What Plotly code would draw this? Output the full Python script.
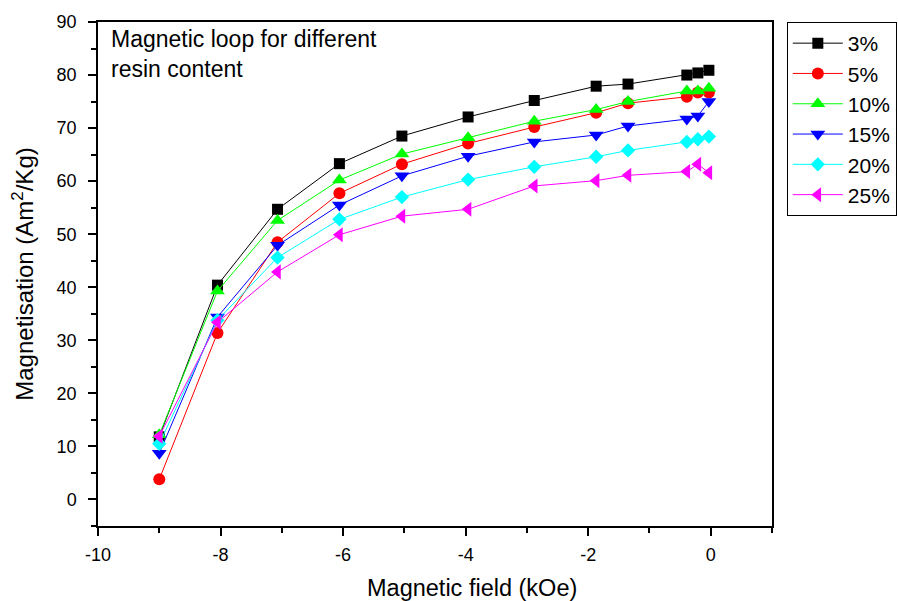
import plotly.graph_objects as go

# Applied magnetic field (kOe)
field = [-9.0, -8.05, -7.07, -6.06, -5.04, -3.96, -2.88, -1.87, -1.35, -0.39, -0.21, -0.03]

# Magnetisation (Am^2/Kg) for each resin content
m_3 = [11.8, 40.4, 54.7, 63.3, 68.5, 72.1, 75.2, 77.9, 78.3, 80.0, 80.4, 80.9]
m_5 = [3.8, 31.4, 48.5, 57.7, 63.2, 67.1, 70.2, 72.9, 74.7, 75.9, 76.7, 76.7]
m_10 = [12.2, 39.3, 52.6, 60.2, 65.1, 68.2, 71.3, 73.5, 75.0, 77.0, 77.0, 77.5]
m_15 = [8.7, 34.4, 47.9, 55.5, 61.0, 64.7, 67.4, 68.7, 70.4, 71.7, 72.3, 75.0]
m_20 = [10.5, 33.8, 45.6, 52.8, 57.0, 60.3, 62.7, 64.6, 65.8, 67.4, 67.9, 68.4]
m_25 = [11.9, 33.4, 42.9, 49.9, 53.4, 54.7, 59.1, 60.1, 61.1, 61.8, 63.2, 61.6]

labels = ["3%", "5%", "10%", "15%", "20%", "25%"]
series = [m_3, m_5, m_10, m_15, m_20, m_25]
colors = ["#000000", "#FF0000", "#00FF00", "#0000FF", "#00FFFF", "#FF00FF"]
symbols = ["square", "circle", "triangle-up", "triangle-down", "diamond", "triangle-left"]
sizes = [11, 12, 13, 13, 11, 13]

# Axis tick labels (plain hyphen minus)
x_ticks = [-10, -8, -6, -4, -2, 0]
x_ticktext = ["-10", "-8", "-6", "-4", "-2", "0"]
y_ticks = [0, 10, 20, 30, 40, 50, 60, 70, 80, 90]

FONT = "Arial, Liberation Sans, sans-serif"

fig = go.Figure()
for name, ys, c, s, sz in zip(labels, series, colors, symbols, sizes):
    fig.add_trace(go.Scatter(
        x=field, y=ys, name=name, mode="lines+markers",
        line=dict(color=c, width=1),
        marker=dict(symbol=s, size=sz, color=c, line=dict(width=0)),
    ))

axis_common = dict(
    showgrid=False, zeroline=False,
    showline=True, linecolor="black", linewidth=1.5, mirror=True,
    ticks="outside", ticklen=8, tickwidth=1.5, tickcolor="black",
    tickfont=dict(family=FONT, size=18, color="black"),
)

fig.update_xaxes(
    range=[-10, 1], tickmode="array", tickvals=x_ticks, ticktext=x_ticktext,
    minor=dict(ticks="outside", ticklen=5, tickwidth=1.5, tickcolor="black", dtick=1, tick0=-10),
    ticklabelstandoff=4,
    **axis_common,
)
fig.update_yaxes(
    range=[-5, 90], tickmode="array", tickvals=y_ticks,
    minor=dict(ticks="outside", ticklen=5, tickwidth=1.5, tickcolor="black", dtick=5, tick0=0),
    ticklabelstandoff=8,
    title=dict(text="Magnetisation (Am<sup>2</sup>/Kg)", font=dict(family=FONT, size=24, color="black"),
               standoff=16),
    **axis_common,
)

fig.add_annotation(
    text="Magnetic field (kOe)", xref="paper", yref="paper",
    x=0.555, y=-0.123, xanchor="center", yanchor="middle", showarrow=False,
    font=dict(family=FONT, size=23.5, color="black"),
)
fig.add_annotation(
    text="Magnetic loop for different<br>resin content", xref="paper", yref="paper",
    x=0.017, y=0.996, xanchor="left", yanchor="top", showarrow=False, align="left",
    font=dict(family=FONT, size=23, color="black"),
)

fig.update_layout(
    template="none",
    width=898, height=601,
    margin=dict(l=98, r=126, t=22, b=75, autoexpand=False),
    paper_bgcolor="white", plot_bgcolor="white",
    font=dict(family=FONT, color="black"),
    showlegend=True,
    legend=dict(
        x=1.022, y=1.0, xanchor="left", yanchor="top",
        bordercolor="black", borderwidth=1, bgcolor="white",
        font=dict(family=FONT, size=21, color="black"),
        itemwidth=50,
    ),
)

fig.write_html("out.html")
